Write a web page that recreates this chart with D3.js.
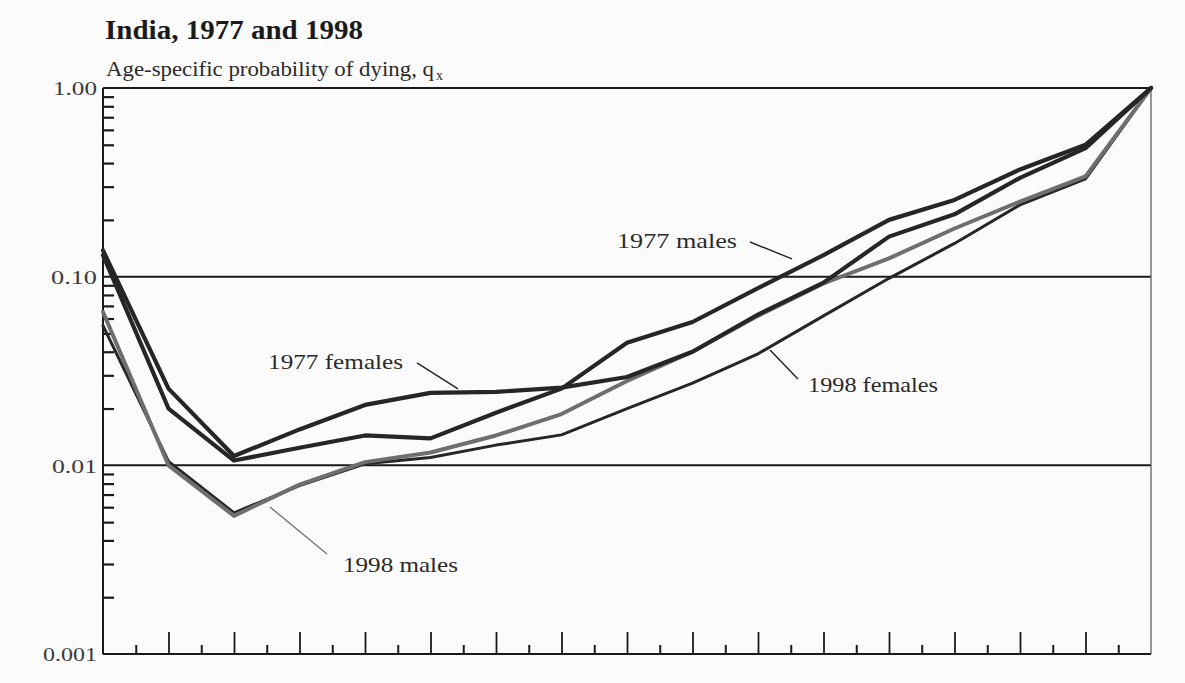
<!DOCTYPE html>
<html><head><meta charset="utf-8">
<script src="https://cdn.jsdelivr.net/npm/d3@7"></script>
<style>
body{margin:0;background:#fbfbfb;}
svg{display:block;}
text{font-family:"Liberation Serif","Times New Roman",Times,serif;}
</style>
</head><body>
<svg id="chart" width="1185" height="683"></svg>
<script>
// ---- data ----
const ages = [0,5,10,15,20,25,30,35,40,45,50,55,60,65,70,75,80];
const males1977   = [0.130,0.0200,0.0106,0.0124,0.0144,0.0139,0.0190,0.0255,0.0446,0.0575,0.0870,0.130,0.200,0.255,0.370,0.500,1.0];
const females1977 = [0.138,0.0255,0.0112,0.0155,0.0209,0.0242,0.0245,0.0258,0.0294,0.0400,0.0630,0.0930,0.163,0.214,0.334,0.480,1.0];
const males1998   = [0.065,0.0100,0.0054,0.0079,0.0104,0.0117,0.0144,0.0187,0.0280,0.0400,0.0620,0.0920,0.125,0.180,0.250,0.340,1.0];
const females1998 = [0.055,0.0105,0.0056,0.0078,0.0102,0.0110,0.0128,0.0145,0.0200,0.0273,0.0390,0.0620,0.098,0.150,0.240,0.330,1.0];
const seriesNames = ["1977 males","1977 females","1998 males","1998 females"];
const yTickValues = [1, 0.1, 0.01, 0.001];
const yTickLabels = ["1.00","0.10","0.01","0.001"];
const gridValues = [0.1, 0.01];
const majorXTicks = [5,10,15,20,25,30,35,40,45,50,55,60,65,70,75];
const minorXTicks = [2.5,7.5,12.5,17.5,22.5,27.5,32.5,37.5,42.5,47.5,52.5,57.5,62.5,67.5,72.5,77.5];
const titleText = "India, 1977 and 1998";
const subtitleText = "Age-specific probability of dying, q";
const subtitleSub = "x";
// annotations in data units: label start (age,q) and leader from/to
const annotations = [
  {text:"1977 males",   at:[39.24,0.142],  from:[49.39,0.1527], to:[52.60,0.1241], w:120, color:"#222"},
  {text:"1977 females", at:[12.60,0.0324], from:[23.97,0.0349], to:[27.10,0.0254], w:135, color:"#222"},
  {text:"1998 females", at:[53.82,0.0245], from:[53.05,0.0287], to:[50.92,0.0409], w:130, color:"#222"},
  {text:"1998 males",   at:[18.32,0.00272],from:[17.10,0.00339],to:[12.75,0.00601],w:115, color:"#777"}
];

// ---- layout ----
const X0 = 103, X1 = 1151, Y0 = 88, Y1 = 654;
const svg = d3.select("#chart");
svg.append("rect").attr("width",1185).attr("height",683).attr("fill","#fbfbfb");

const x = d3.scaleLinear().domain([0,80]).range([X0,X1]);
const y = d3.scaleLog().domain([0.001,1]).range([Y1,Y0]);

// title
svg.append("text").attr("x",105).attr("y",39).attr("font-size",28).attr("font-weight","bold")
  .attr("fill","#1a1a1a").attr("textLength",258).attr("lengthAdjust","spacingAndGlyphs").text(titleText);
svg.append("text").attr("x",106).attr("y",76).attr("font-size",20)
  .attr("fill","#2a2a2a").attr("textLength",328).attr("lengthAdjust","spacingAndGlyphs").text(subtitleText);
svg.append("text").attr("x",436).attr("y",80).attr("font-size",14)
  .attr("fill","#2a2a2a").text(subtitleSub);

// gridlines
svg.append("g").selectAll("line").data(gridValues).join("line")
  .attr("x1",X0).attr("x2",X1).attr("y1",d=>y(d)).attr("y2",d=>y(d))
  .attr("stroke","#1a1a1a").attr("stroke-width",2);
// top border
svg.append("line").attr("x1",X0).attr("x2",X1).attr("y1",y(1)).attr("y2",y(1))
  .attr("stroke","#1a1a1a").attr("stroke-width",2);
// right border
svg.append("line").attr("x1",X1).attr("x2",X1).attr("y1",y(1)).attr("y2",y(0.001))
  .attr("stroke","#555").attr("stroke-width",1.2);

// y minor ticks (inward)
const minorY = [];
[0.001,0.01,0.1].forEach(b=>{for(let m=2;m<=9;m++) minorY.push(b*m);});
const yAxisMinor = d3.axisRight(y).tickValues(minorY).tickSize(11).tickFormat("");
const gy = svg.append("g").attr("transform",`translate(${X0},0)`).call(yAxisMinor);
gy.select(".domain").attr("stroke","#1a1a1a").attr("stroke-width",2).attr("d",`M0,${Y0}V${Y1}`);
gy.selectAll(".tick line").attr("stroke","#1a1a1a").attr("stroke-width",2.2);

// y labels
const labelW = {"1.00":44,"0.10":46,"0.01":45,"0.001":54};
const yAxisLabels = d3.axisLeft(y).tickValues(yTickValues).tickSize(0).tickPadding(6)
  .tickFormat((d,i)=>yTickLabels[i]);
const gyl = svg.append("g").attr("transform",`translate(${X0},0)`).call(yAxisLabels);
gyl.select(".domain").remove();
gyl.selectAll(".tick text").attr("font-family","Liberation Serif, serif").attr("font-size",19)
  .attr("fill","#3a3a3a").attr("dy","0.36em")
  .attr("textLength",(d,i)=>labelW[yTickLabels[i]]).attr("lengthAdjust","spacingAndGlyphs");

// x axis at bottom, ticks pointing up
const gxMaj = svg.append("g").attr("transform",`translate(0,${Y1})`)
  .call(d3.axisTop(x).tickValues(majorXTicks).tickSize(22).tickFormat(""));
gxMaj.select(".domain").attr("stroke","#1a1a1a").attr("stroke-width",2).attr("d",`M${X0},0H${X1}`);
gxMaj.selectAll(".tick line").attr("stroke","#1a1a1a").attr("stroke-width",1.8);
const gxMin = svg.append("g").attr("transform",`translate(0,${Y1})`)
  .call(d3.axisTop(x).tickValues(minorXTicks).tickSize(9).tickFormat(""));
gxMin.select(".domain").remove();
gxMin.selectAll(".tick line").attr("stroke","#1a1a1a").attr("stroke-width",2);

// lines
const line = d3.line().x((d,i)=>x(ages[i])).y(d=>y(d));
const series = [
  {name:"1998 females", values:females1998, color:"#262626", width:3},
  {name:"1998 males",   values:males1998,   color:"#6e6e6e", width:4},
  {name:"1977 males",   values:males1977,   color:"#262626", width:4.2},
  {name:"1977 females", values:females1977, color:"#262626", width:4.2}
];
svg.append("g").selectAll("path").data(series).join("path")
  .attr("d",d=>line(d.values)).attr("fill","none")
  .attr("stroke",d=>d.color).attr("stroke-width",d=>d.width)
  .attr("stroke-linejoin","round").attr("stroke-linecap","round");

// annotations
const ga = svg.append("g");
annotations.forEach(a=>{
  ga.append("line").attr("x1",x(a.from[0])).attr("y1",y(a.from[1]))
    .attr("x2",x(a.to[0])).attr("y2",y(a.to[1]))
    .attr("stroke",a.color).attr("stroke-width",1.4);
  ga.append("text").attr("x",x(a.at[0])).attr("y",y(a.at[1])).attr("font-size",21)
    .attr("fill","#2a2a2a").attr("textLength",a.w).attr("lengthAdjust","spacingAndGlyphs").text(a.text);
});
</script>
</body></html>
